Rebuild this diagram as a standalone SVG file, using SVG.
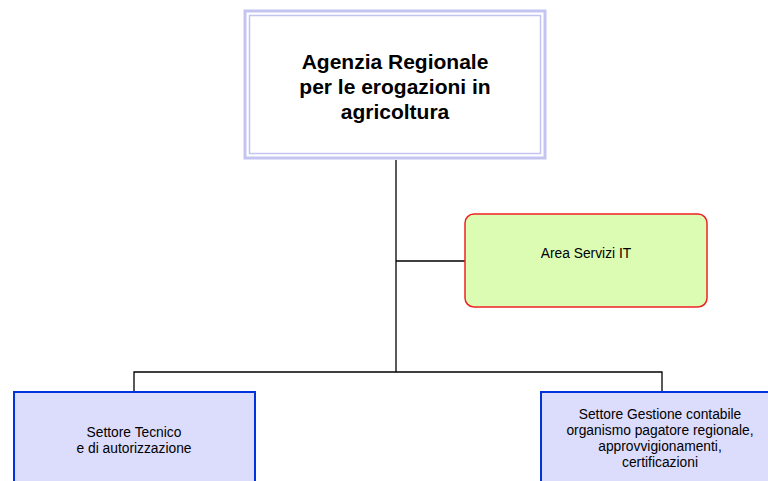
<svg xmlns="http://www.w3.org/2000/svg" width="768" height="481" viewBox="0 0 768 481">
<style>
.conn{stroke:#000;stroke-width:1.3;fill:none}
.t{font-family:"Liberation Sans",Arial,sans-serif;fill:#000;text-anchor:middle}
.big{font-size:21px;font-weight:bold}
.sm{font-size:13.8px}
.blue{fill:#dcdcfc;stroke:#0033dd;stroke-width:2}
</style>
<rect width="768" height="481" fill="#fff"/>
<g id="connectors">
<line class="conn" x1="396" y1="160" x2="396" y2="372"/>
<line class="conn" x1="396" y1="261" x2="465" y2="261"/>
<polyline class="conn" points="134,392 134,372 662,372 662,392"/>
</g>
<g id="agenzia">
<rect x="245" y="11" width="300" height="147" fill="#fff" stroke="#c4c4f2" stroke-width="3"/>
<rect x="249.5" y="15.5" width="291" height="138" fill="#fff" stroke="#c4c4f2" stroke-width="1.5"/>
<text class="t big" x="395" y="69">Agenzia Regionale</text>
<text class="t big" x="395" y="94">per le erogazioni in</text>
<text class="t big" x="395" y="119">agricoltura</text>
</g>
<g id="area-it">
<rect x="465" y="214" width="242" height="93" rx="9" fill="#dcfcb4" stroke="#ee2222" stroke-width="1.5"/>
<text class="t sm" x="586" y="258">Area Servizi IT</text>
</g>
<g id="settore-tecnico">
<rect class="blue" x="14" y="392" width="241" height="100"/>
<text class="t sm" x="134" y="437">Settore Tecnico</text>
<text class="t sm" x="134" y="453">e di autorizzazione</text>
</g>
<g id="settore-gestione">
<rect class="blue" x="541" y="392" width="240" height="100"/>
<text class="t sm" x="660" y="419">Settore Gestione contabile</text>
<text class="t sm" x="660" y="435">organismo pagatore regionale,</text>
<text class="t sm" x="660" y="451">approvvigionamenti,</text>
<text class="t sm" x="660" y="467">certificazioni</text>
</g>
</svg>
